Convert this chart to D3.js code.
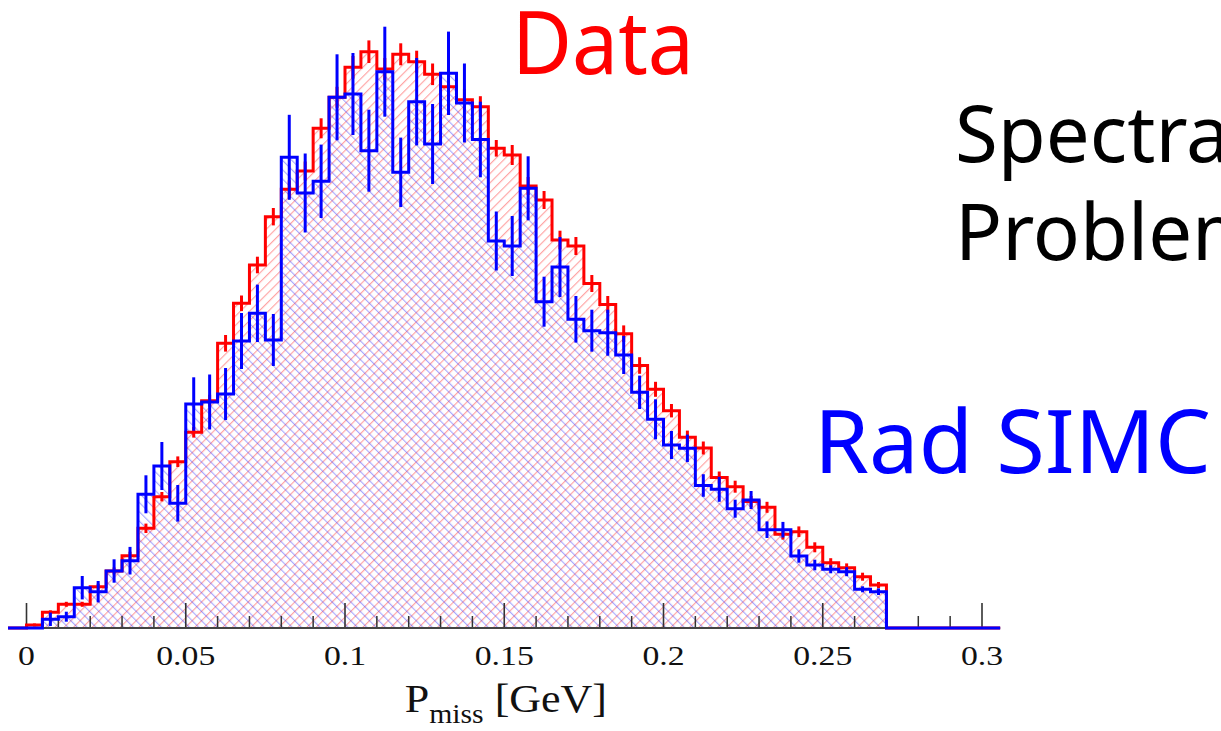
<!DOCTYPE html>
<html>
<head>
<meta charset="utf-8">
<script src="https://cdn.jsdelivr.net/npm/d3@7"></script>
<style>
  html, body { margin: 0; padding: 0; background: #fff; overflow: hidden; }
  svg { display: block; }
</style>
</head>
<body>
<svg id="chart" width="1221" height="731"></svg>
<script>
// ---------------- data ----------------
const binWidth = 0.005;
const binStarts = d3.range(54).map(i => +(i * binWidth).toFixed(3));

const dataCounts = [3, 15.7, 23.7, 23.7, 41.3, 57, 72.3, 99.7, 131.3, 166.3,
  195.7, 227.3, 284.7, 324.7, 363, 411.3, 438.7, 457, 499.7, 530.7,
  560.7, 576.3, 559, 573.7, 566.3, 553.7, 541.3, 528.3, 521.3, 479.7,
  473, 442, 428, 388, 382, 344.5, 323.5, 294.3, 262.5, 238.7,
  217.3, 190.7, 180, 150.5, 141.3, 126.5, 120.7, 93.7, 96.3, 80.7,
  65.3, 60.3, 51.3, 43];
const dataErrors = [1.5, 2, 2.5, 2.5, 3, 3.5, 4, 4.7, 4.7, 5.3,
  5.3, 6, 8.3, 7.8, 8.3, 8.7, 9, 9.5, 10, 10.5,
  11.3, 11.3, 11, 11, 11, 10.8, 10.8, 10.5, 10.5, 8.3,
  10, 9, 9, 9.3, 9, 8.5, 8.5, 8.3, 8.3, 7.5,
  6.7, 6.7, 6.5, 6, 6, 5.5, 5.5, 5.3, 5.3, 5,
  4.5, 4.3, 4, 3];

const simcCounts = [0, 8.7, 11.3, 40.3, 36.3, 57, 67.3, 133.7, 162, 124.7,
  224, 226, 234, 287, 314.7, 288, 470.7, 435, 446.7, 530.7,
  534, 477.3, 556.3, 455.7, 526.3, 484, 554.7, 525, 488.5, 387,
  382, 439.7, 326.3, 361, 308.7, 297.3, 295.3, 273, 235.7, 208.7,
  183, 179.7, 142.5, 138.7, 119.3, 128, 98.3, 98.3, 72, 63,
  58.7, 56.3, 38.7, 36.3];
const simcErrors = [0, 6.7, 5, 11.7, 10.7, 11.7, 13.8, 19, 24, 18.3,
  26.7, 27.5, 26, 28, 28.7, 26, 42.5, 39.5, 36.7, 43,
  41, 41, 45, 34.7, 43.7, 40, 41.7, 39.5, 37.8, 29.5,
  30, 32, 25, 30, 23.3, 21, 23, 19, 16.7, 20,
  14, 13.7, 11.3, 12.5, 9, 9, 8.3, 7.8, 6.7, 5.3,
  4, 4.5, 3, 3.3];

const majorTicks = [0, 0.05, 0.1, 0.15, 0.2, 0.25, 0.3];
const majorTickLabels = ["0", "0.05", "0.1", "0.15", "0.2", "0.25", "0.3"];
const minorTicks = d3.range(31).map(i => +(i * 0.01).toFixed(2)).filter(v => !majorTicks.includes(v));

const xAxisStart = -0.0058, xAxisEnd = 0.3057;
const xTitleMain = "P", xTitleSub = "miss", xTitleUnit = " [GeV]";

// ---------------- scales ----------------
const svg = d3.select("#chart");
const x = d3.scaleLinear().domain([0, 0.3]).range([26.5, 982]);
const y = d3.scaleLinear().domain([0, 600]).range([628, 28]);

// ---------------- patterns ----------------
const defs = svg.append("defs");
function hatch(id, color, angle) {
  const p = defs.append("pattern")
    .attr("id", id).attr("patternUnits", "userSpaceOnUse")
    .attr("width", 6.6).attr("height", 10)
    .attr("patternTransform", `rotate(${angle})`);
  p.append("line").attr("x1", 0.6).attr("y1", -1).attr("x2", 0.6).attr("y2", 11)
    .attr("stroke", color).attr("stroke-width", 1.1);
}
hatch("hRed", "rgba(255,40,40,0.45)", 45);
hatch("hBlue", "rgba(40,40,255,0.42)", -45);

// ---------------- helpers ----------------
function stepPoints(counts) {
  const pts = [{ x: xAxisStart, v: 0 }];
  counts.forEach((c, i) => pts.push({ x: binStarts[i], v: c }));
  pts.push({ x: binStarts[binStarts.length - 1] + binWidth, v: 0 });
  pts.push({ x: xAxisEnd, v: 0 });
  return pts;
}
const stepLine = d3.line().x(d => x(d.x)).y(d => y(d.v)).curve(d3.curveStepAfter);
const stepArea = d3.area().x(d => x(d.x)).y0(y(0)).y1(d => y(d.v)).curve(d3.curveStepAfter);

const redPts = stepPoints(dataCounts);
const bluePts = stepPoints(simcCounts);

// fills
svg.append("path").attr("d", stepArea(redPts)).attr("fill", "url(#hRed)");
svg.append("path").attr("d", stepArea(bluePts)).attr("fill", "url(#hBlue)");

// ---------------- axis ----------------
const axisG = svg.append("g");
axisG.selectAll("line.minor").data(minorTicks).join("line")
  .attr("x1", d => x(d)).attr("x2", d => x(d))
  .attr("y1", y(0)).attr("y2", y(0) - 12)
  .attr("stroke", "#333").attr("stroke-width", 1.5);
axisG.selectAll("line.major").data(majorTicks).join("line")
  .attr("x1", d => x(d)).attr("x2", d => x(d))
  .attr("y1", y(0)).attr("y2", y(0) - 25)
  .attr("stroke", "#333").attr("stroke-width", 1.6);
axisG.append("line")
  .attr("x1", x(xAxisStart)).attr("x2", x(xAxisEnd))
  .attr("y1", y(0)).attr("y2", y(0))
  .attr("stroke", "#444").attr("stroke-width", 2.2);

axisG.selectAll("text.tl").data(majorTicks).join("text")
  .attr("transform", d => `translate(${x(d)},665) scale(1.25,1)`)
  .attr("text-anchor", "middle")
  .attr("font-family", "'Liberation Serif', 'DejaVu Serif', serif")
  .attr("font-size", 27).attr("fill", "#111")
  .text((d, i) => majorTickLabels[i]);

const title = svg.append("text")
  .attr("transform", `translate(${x(0.1505)},712) scale(1.1,1)`)
  .attr("text-anchor", "middle")
  .attr("font-family", "'Liberation Serif', 'DejaVu Serif', serif")
  .attr("font-size", 40).attr("fill", "#111");
title.append("tspan").text(xTitleMain);
title.append("tspan").attr("font-size", 27).attr("dy", 11).text(xTitleSub);
title.append("tspan").attr("dy", -11).text(xTitleUnit);

// ---------------- histograms ----------------
function drawHist(counts, errors, pts, color) {
  const g = svg.append("g");
  g.append("path").attr("d", stepLine(pts)).attr("fill", "none")
    .attr("stroke", color).attr("stroke-width", 3).attr("stroke-linejoin", "miter");
  g.selectAll("line.err").data(counts.map((c, i) => ({ c, e: errors[i], s: binStarts[i] })).filter(d => d.e > 0))
    .join("line")
    .attr("x1", d => x(d.s + binWidth / 2)).attr("x2", d => x(d.s + binWidth / 2))
    .attr("y1", d => y(d.c - d.e)).attr("y2", d => y(d.c + d.e))
    .attr("stroke", color).attr("stroke-width", 3);
}
drawHist(dataCounts, dataErrors, redPts, "#ff0000");
drawHist(simcCounts, simcErrors, bluePts, "#0000ff");

// ---------------- annotations ----------------
const sans = "'Noto Sans', 'Open Sans', 'Liberation Sans', sans-serif";
svg.append("text").attr("x", 512).attr("y", 74)
  .attr("font-family", sans).attr("font-size", 88).attr("fill", "#ff0000")
  .attr("textLength", 182).attr("lengthAdjust", "spacingAndGlyphs").text("Data");
svg.append("text").attr("x", 814).attr("y", 473)
  .attr("font-family", sans).attr("font-size", 88).attr("fill", "#0000ff")
  .attr("textLength", 397).attr("lengthAdjust", "spacingAndGlyphs").text("Rad SIMC");
svg.append("text").attr("x", 955).attr("y", 162)
  .attr("font-family", sans).attr("font-size", 78).attr("fill", "#000").text("Spectral");
svg.append("text").attr("x", 955).attr("y", 260)
  .attr("font-family", sans).attr("font-size", 78).attr("fill", "#000").text("Problem");
</script>
</body>
</html>
